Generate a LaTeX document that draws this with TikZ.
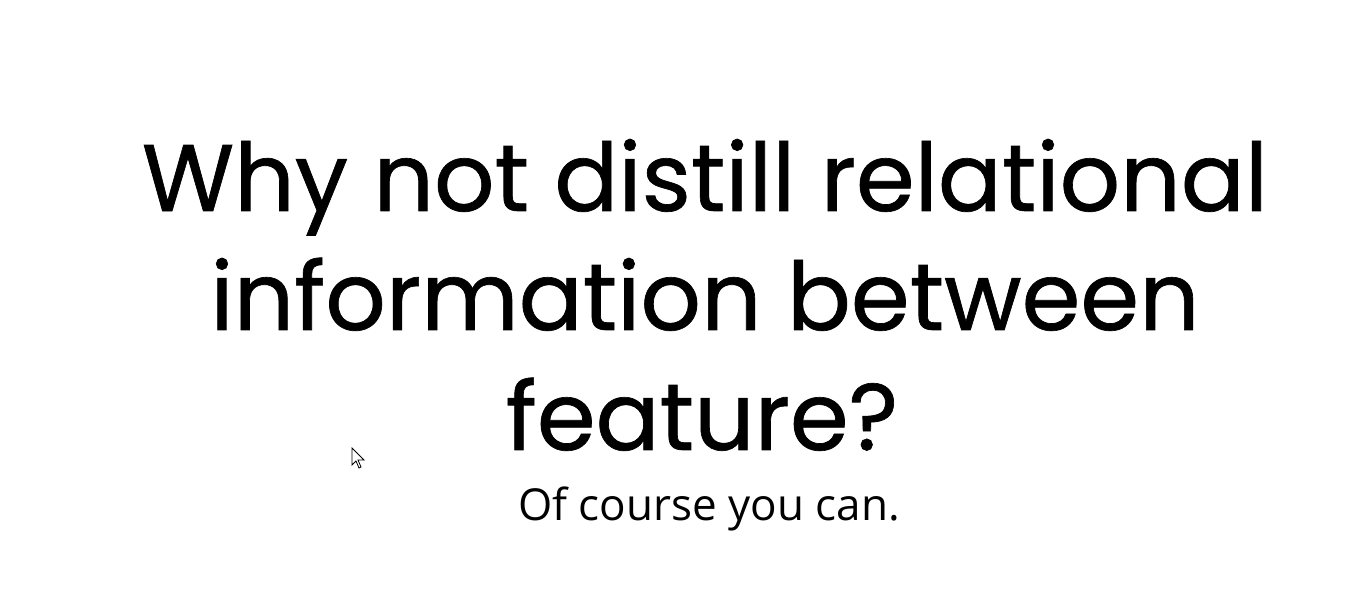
\documentclass[tikz,border=0pt]{standalone}
\usepackage{fontspec}
\newfontfamily\titlefont{Poppins}[FakeBold=0.7]
\newfontfamily\subfont{Open Sans}
\begin{document}
\begin{tikzpicture}[x=0.75pt,y=-0.75pt,
  titleline/.style={anchor=base,inner sep=0pt,font=\titlefont\fontsize{71}{71}\selectfont},
  subline/.style={anchor=base,inner sep=0pt,font=\subfont\fontsize{33}{33}\selectfont}]
\useasboundingbox[fill=white] (0,0) rectangle (1346,605);
\node[titleline] (l1) at (705,211) {Why not distill relational};
\node[titleline] (l2) at (705,330) {information between};
\node[titleline] (l3) at (702,450) {feature?};
\node[subline] (sub) at (709,521) {Of course you can.};
% mouse cursor
\draw[fill=white,line width=0.6pt,line join=miter]
  (352,448) -- (352,465) -- (356,461) -- (359,468) -- (361,467) -- (358,460) -- (364,460) -- cycle;
\end{tikzpicture}
\end{document}
